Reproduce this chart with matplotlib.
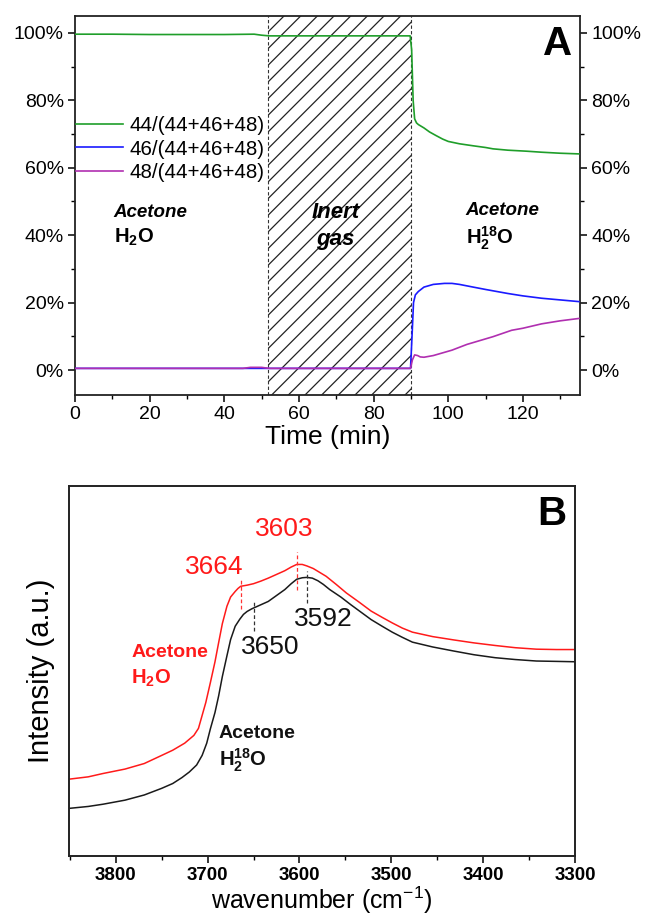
import matplotlib
matplotlib.use("Agg")
import matplotlib.pyplot as plt
from matplotlib.ticker import MultipleLocator, FuncFormatter

plt.rcParams['font.family'] = ['Liberation Sans', 'DejaVu Sans']
plt.rcParams['mathtext.fontset'] = 'custom'
plt.rcParams['mathtext.rm'] = 'Liberation Sans'
plt.rcParams['mathtext.bf'] = 'Liberation Sans:bold'
plt.rcParams['mathtext.it'] = 'Liberation Sans:italic'
plt.rcParams['hatch.linewidth'] = 0.9

# ---------------- Panel A data ----------------
t_44 = [0, 10, 20, 30, 40, 48, 50, 52, 60, 70, 80, 89.8, 90.2, 90.6, 91.0, 91.5,
        92, 93.5, 95, 96.8, 98.5, 100, 103, 106.7, 110, 112, 116, 121, 125, 130, 135]
r_44 = [99.6, 99.6, 99.5, 99.5, 99.5, 99.6, 99.3, 99.1, 99.1, 99.1, 99.1, 99.1, 95.0, 80.0,
        74.5, 73.3, 72.8, 71.8, 70.6, 69.5, 68.5, 67.8, 67.1, 66.5, 66.0, 65.6, 65.2, 64.9,
        64.6, 64.3, 64.1]

t_46 = [0, 50, 89.9, 90.3, 90.7, 91.2, 92, 93.5, 96, 99, 101, 103, 106.7, 110, 112,
        116, 120, 125, 130, 135]
r_46 = [0.5, 0.5, 0.5, 10.0, 20.0, 22.3, 23.3, 24.6, 25.4, 25.7, 25.7, 25.4, 24.6, 23.9,
        23.5, 22.7, 22.0, 21.3, 20.8, 20.3]

t_48 = [0, 45, 47, 50, 52, 89.9, 90.4, 91.0, 91.8, 92.5, 93.5, 96, 101, 105, 112,
        117, 120, 125, 130, 135]
r_48 = [0.5, 0.5, 0.8, 0.8, 0.5, 0.5, 3.0, 4.5, 4.3, 3.9, 3.8, 4.3, 5.9, 7.6, 9.9,
        11.8, 12.4, 13.7, 14.6, 15.3]

series_labels = ['44/(44+46+48)', '46/(44+46+48)', '48/(44+46+48)']
series_colors = ['#1f9e2a', '#1a1aff', '#b02fb0']
inert_start, inert_end = 51.7, 89.9

# ---------------- Panel B data ----------------
wn_red = [3850, 3830, 3814, 3790, 3769, 3750, 3738, 3725, 3715, 3710, 3706, 3702, 3697,
          3692, 3688, 3684, 3679, 3675, 3670, 3667, 3664, 3657, 3650, 3642, 3634, 3625,
          3616, 3609, 3603, 3597, 3592, 3585, 3571, 3560, 3549, 3535, 3522, 3510, 3499,
          3488, 3477, 3455, 3432, 3410, 3387, 3365, 3342, 3320, 3300]
I_red = [20.8, 21.4, 22.3, 23.5, 25.0, 27.2, 28.6, 30.5, 32.6, 34.5, 38.0, 41.5, 46.9,
         52.5, 57.7, 62.8, 67.5, 70.0, 71.5, 72.3, 72.9, 73.2, 73.6, 74.3, 75.1, 76.1,
         77.1, 78.1, 78.8, 78.8, 78.4, 77.7, 75.6, 73.4, 71.1, 68.6, 66.2, 64.5, 63.0,
         61.6, 60.5, 59.3, 58.4, 57.6, 56.9, 56.3, 55.9, 55.8, 55.8]

wn_blk = [3850, 3830, 3814, 3790, 3769, 3750, 3738, 3728, 3720, 3712, 3706, 3701, 3697,
          3692, 3688, 3684, 3679, 3675, 3670, 3665, 3661, 3657, 3652, 3643, 3634, 3625,
          3616, 3609, 3603, 3597, 3592, 3586, 3580, 3574, 3567, 3555, 3544, 3533, 3522,
          3510, 3499, 3488, 3477, 3455, 3432, 3410, 3387, 3365, 3342, 3320, 3300]
I_blk = [12.9, 13.4, 14.0, 15.1, 16.5, 18.3, 19.6, 21.2, 22.7, 24.6, 27.2, 30.5, 34.4,
         38.8, 43.3, 48.5, 54.1, 58.5, 62.1, 64.0, 65.3, 66.1, 66.8, 67.8, 68.8, 70.4,
         72.0, 73.6, 74.8, 75.2, 75.3, 75.1, 74.4, 73.4, 72.0, 70.0, 67.9, 65.9, 63.9,
         62.1, 60.5, 59.1, 57.8, 56.5, 55.4, 54.4, 53.6, 53.1, 52.7, 52.6, 52.5]

peaks_red = [3664, 3603]
peaks_blk = [3650, 3592]

# ---------------- Figure ----------------
fig = plt.figure(figsize=(6.47, 9.18), dpi=100)
fig.patch.set_facecolor('white')

# Panel A
axA = fig.add_axes([0.1159, 0.5697, 0.7805, 0.4129])
axA.axvspan(inert_start, inert_end, facecolor='none', edgecolor='#222222',
            hatch='//', linewidth=0, zorder=1)
axA.axvline(inert_start, color='#333333', lw=0.8, ls=(0, (3, 2)), zorder=1.5)
axA.axvline(inert_end, color='#333333', lw=0.8, ls=(0, (3, 2)), zorder=1.5)

for t, r, lab, c in zip([t_44, t_46, t_48], [r_44, r_46, r_48], series_labels, series_colors):
    axA.plot(t, r, color=c, lw=1.2, label=lab, zorder=3)

axA.set_xlim(0, 135.3)
axA.set_ylim(-7.4, 105)
axA.xaxis.set_major_locator(MultipleLocator(20))
axA.xaxis.set_minor_locator(MultipleLocator(10))
axA.yaxis.set_major_locator(MultipleLocator(20))
axA.yaxis.set_minor_locator(MultipleLocator(10))
pct = FuncFormatter(lambda v, p: f"{v:.0f}%")
axA.yaxis.set_major_formatter(pct)
axA.tick_params(axis='both', which='major', direction='out', length=5, width=1.1,
                labelsize=14, pad=3)
axA.tick_params(axis='both', which='minor', direction='out', length=3, width=1.0)
axA.tick_params(axis='y', which='both', left=True, right=True, labelright=True)
axA.tick_params(axis='x', which='both', top=False)
for s in axA.spines.values():
    s.set_linewidth(1.3)
    s.set_color('#222222')
axA.set_xlabel('Time (min)', fontsize=19, labelpad=1)

leg = axA.legend(loc='center left', bbox_to_anchor=(0.002, 0.649), frameon=False,
                 fontsize=14.8, handlelength=2.3, handletextpad=0.3, labelspacing=0.22,
                 borderpad=0, borderaxespad=0)

axA.text(10.4, 46.6, 'Acetone', fontsize=13.5, fontweight='bold', style='italic',
         ha='left', va='center')
axA.text(10.4, 39.3, r'$\mathbf{H_2O}$', fontsize=14.5, ha='left', va='center')
axA.text(69.8, 46.8, 'Inert', fontsize=16, fontweight='bold', style='italic',
         ha='center', va='center', zorder=4)
axA.text(69.8, 38.6, 'gas', fontsize=16, fontweight='bold', style='italic',
         ha='center', va='center', zorder=4)
axA.text(104.7, 47.2, 'Acetone', fontsize=13.5, fontweight='bold', style='italic',
         ha='left', va='center')
axA.text(104.7, 39.0, r'$\mathbf{H_2^{18}O}$', fontsize=14.5, ha='left', va='center')
axA.text(0.955, 0.925, 'A', transform=axA.transAxes, fontsize=29, fontweight='bold',
         ha='center', va='center')

# Panel B
axB = fig.add_axes([0.1066, 0.0675, 0.7821, 0.4031])
axB.plot(wn_red, I_red, color='#ff1a1a', lw=1.1)
axB.plot(wn_blk, I_blk, color='#1a1a1a', lw=1.1)
axB.set_xlim(3851, 3300)
axB.set_ylim(0, 100)

axB.vlines(peaks_red[0], 66.7, 75.1, colors='#ff3333', linestyles=(0, (3, 2)), lw=0.9)
axB.vlines(peaks_red[1], 71.9, 82.2, colors='#ff3333', linestyles=(0, (3, 2)), lw=0.9)
axB.vlines(peaks_blk[0], 60.8, 69.3, colors='#333333', linestyles=(0, (3, 2)), lw=0.9)
axB.vlines(peaks_blk[1], 68.4, 76.9, colors='#333333', linestyles=(0, (3, 2)), lw=0.9)

axB.text(3693, 78.2, str(peaks_red[0]), color='#ff1a1a', fontsize=19, ha='center', va='center')
axB.text(3617, 88.4, str(peaks_red[1]), color='#ff1a1a', fontsize=19, ha='center', va='center')
axB.text(3632, 56.6, str(peaks_blk[0]), color='#111111', fontsize=19, ha='center', va='center')
axB.text(3574, 64.1, str(peaks_blk[1]), color='#111111', fontsize=19, ha='center', va='center')

axB.text(3783, 55.0, 'Acetone', color='#ff1a1a', fontsize=14, fontweight='bold',
         ha='left', va='center')
axB.text(3783, 48.0, r'$\mathbf{H_2O}$', color='#ff1a1a', fontsize=14.5, ha='left', va='center')
axB.text(3688, 33.0, 'Acetone', color='#111111', fontsize=14, fontweight='bold',
         ha='left', va='center')
axB.text(3688, 25.8, r'$\mathbf{H_2^{18}O}$', color='#111111', fontsize=14.5, ha='left',
         va='center')
axB.text(0.955, 0.925, 'B', transform=axB.transAxes, fontsize=29, fontweight='bold',
         ha='center', va='center')

axB.xaxis.set_major_locator(MultipleLocator(100))
axB.xaxis.set_minor_locator(MultipleLocator(50))
axB.set_yticks([])
axB.tick_params(axis='x', which='major', direction='out', length=5, width=1.1,
                labelsize=13.5, pad=3)
axB.tick_params(axis='x', which='minor', direction='out', length=3, width=1.0)
for lbl in axB.get_xticklabels():
    lbl.set_fontweight('bold')
for s in axB.spines.values():
    s.set_linewidth(1.4)
    s.set_color('#222222')
axB.set_xlabel(r'wavenumber (cm$^{\mathregular{-1}}$)', fontsize=18, labelpad=0)
axB.set_ylabel('Intensity (a.u.)', fontsize=21, labelpad=10)

fig.savefig('out.png', dpi=100, facecolor='white')
